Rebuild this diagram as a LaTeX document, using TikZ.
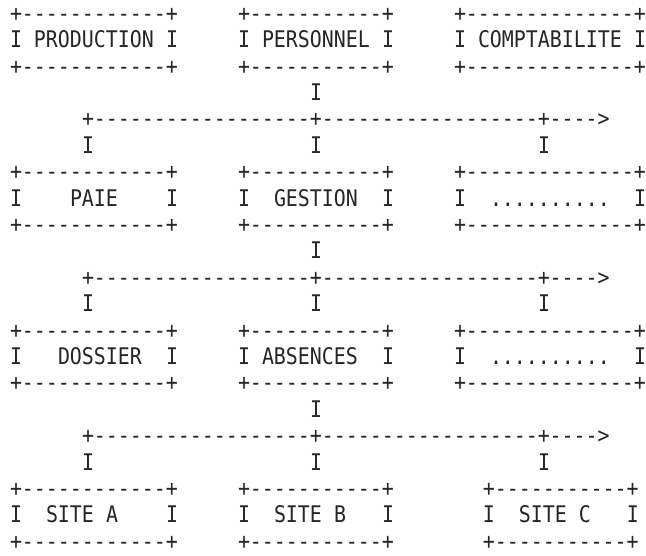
\documentclass[tikz,border=0pt]{standalone}
\usepackage{fontspec}
\setmonofont[FakeStretch=0.87]{DejaVu Sans Mono}
% one text cell on the character grid: name, row, column, text
\newcommand\asc[4]{\node[glyphs] (#1) at ({10+12*#3},{21.3+26.4*(#2-1)}) {#4};}
% the three boxes of a row, top or bottom edge
\newcommand\edges[1]{%
  \asc{e#1a}{#1}{0}{+------------+}%
  \asc{e#1b}{#1}{19}{+-----------+}%
  \asc{e#1c}{#1}{37}{+--------------+}}
% a fan-out line with the feed above it and the drops below it
\newcommand\fanout[1]{%
  \asc{feed#1}{#1}{25}{I}%
  \asc{bus#1}{\numexpr#1+1\relax}{6}{+------------------+------------------+---->}%
  \asc{dropa#1}{\numexpr#1+2\relax}{6}{I}%
  \asc{dropb#1}{\numexpr#1+2\relax}{25}{I}%
  \asc{dropc#1}{\numexpr#1+2\relax}{44}{I}}
\begin{document}
\begin{tikzpicture}[x=1pt,y=-1pt,
  glyphs/.style={anchor=base west,inner sep=0pt,outer sep=0pt,
    font=\ttfamily\fontsize{22.9}{26}\selectfont,text=black!85}]
\useasboundingbox (0,0) rectangle (646,555);
\fill[white] (0,0) rectangle (646,555);
% first level
\edges{1}
\asc{prodl}{2}{0}{I}\asc{prod}{2}{2}{PRODUCTION}\asc{prodr}{2}{13}{I}
\asc{persl}{2}{19}{I}\asc{pers}{2}{21}{PERSONNEL}\asc{persr}{2}{31}{I}
\asc{compl}{2}{37}{I}\asc{comp}{2}{39}{COMPTABILITE}\asc{compr}{2}{52}{I}
\edges{3}
\fanout{4}
% second level
\edges{7}
\asc{paiel}{8}{0}{I}\asc{paie}{8}{5}{PAIE}\asc{paier}{8}{13}{I}
\asc{gestl}{8}{19}{I}\asc{gest}{8}{22}{GESTION}\asc{gestr}{8}{31}{I}
\asc{dotsal}{8}{37}{I}\asc{dotsa}{8}{40}{..........}\asc{dotsar}{8}{52}{I}
\edges{9}
\fanout{10}
% third level
\edges{13}
\asc{dossl}{14}{0}{I}\asc{doss}{14}{4}{DOSSIER}\asc{dossr}{14}{13}{I}
\asc{absl}{14}{19}{I}\asc{abs}{14}{21}{ABSENCES}\asc{absr}{14}{31}{I}
\asc{dotsbl}{14}{37}{I}\asc{dotsb}{14}{40}{..........}\asc{dotsbr}{14}{52}{I}
\edges{15}
\fanout{16}
% sites
\asc{sta}{19}{0}{+------------+}\asc{stb}{19}{19}{+-----------+}\asc{stc}{19}{39.4}{+-----------+}
\asc{sal}{20}{0}{I}\asc{sa}{20}{3}{SITE}\asc{saa}{20}{8}{A}\asc{sar}{20}{13}{I}
\asc{sbl}{20}{19}{I}\asc{sb}{20}{22}{SITE}\asc{sbb}{20}{27}{B}\asc{sbr}{20}{31}{I}
\asc{scl}{20}{39.4}{I}\asc{sc}{20}{42.4}{SITE}\asc{scc}{20}{47.4}{C}\asc{scr}{20}{51.4}{I}
\asc{sba}{21}{0}{+------------+}\asc{sbbb}{21}{19}{+-----------+}\asc{sbc}{21}{39.4}{+-----------+}
\end{tikzpicture}
\end{document}
